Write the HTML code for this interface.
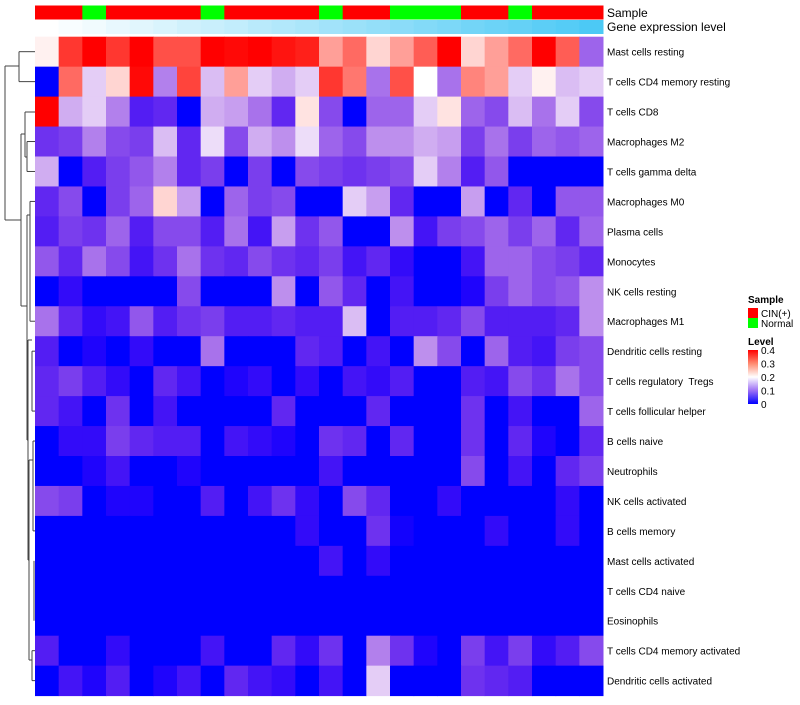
<!DOCTYPE html>
<html><head><meta charset="utf-8"><style>
body{margin:0;background:#fff;font-family:"Liberation Sans",sans-serif;}
svg text{font-family:"Liberation Sans",sans-serif;white-space:pre;}
</style></head><body>
<svg id="chart" width="800" height="700"></svg>
<script>
const rowLabels=["Mast cells resting","T cells CD4 memory resting","T cells CD8","Macrophages M2","T cells gamma delta","Macrophages M0","Plasma cells","Monocytes","NK cells resting","Macrophages M1","Dendritic cells resting","T cells regulatory  Tregs","T cells follicular helper","B cells naive","Neutrophils","NK cells activated","B cells memory","Mast cells activated","T cells CD4 naive","Eosinophils","T cells CD4 memory activated","Dendritic cells activated"];
const sampleGroups=["CIN(+)","CIN(+)","Normal","CIN(+)","CIN(+)","CIN(+)","CIN(+)","Normal","CIN(+)","CIN(+)","CIN(+)","CIN(+)","Normal","CIN(+)","CIN(+)","Normal","Normal","Normal","CIN(+)","CIN(+)","Normal","CIN(+)","CIN(+)","CIN(+)"];
const geneLevel=[0,0.04,0.08,0.13,0.17,0.21,0.26,0.3,0.34,0.39,0.43,0.47,0.52,0.56,0.6,0.65,0.69,0.73,0.78,0.82,0.86,0.91,0.95,1];
const values=[
[0.21,0.35,0.4,0.35,0.4,0.33,0.33,0.4,0.39,0.4,0.38,0.37,0.27,0.31,0.23,0.27,0.32,0.4,0.23,0.27,0.31,0.4,0.32,0.1],
[0,0.31,0.17,0.23,0.39,0.12,0.34,0.16,0.27,0.17,0.15,0.17,0.35,0.3,0.11,0.33,0.2,0.11,0.29,0.27,0.17,0.21,0.16,0.17],
[0.4,0.15,0.17,0.12,0.04,0.05,0,0.15,0.14,0.11,0.05,0.22,0.08,0,0.1,0.1,0.17,0.22,0.1,0.08,0.16,0.11,0.17,0.08],
[0.06,0.07,0.12,0.08,0.07,0.16,0.05,0.18,0.08,0.15,0.13,0.18,0.1,0.08,0.13,0.13,0.15,0.14,0.07,0.11,0.07,0.1,0.09,0.1],
[0.15,0,0.04,0.07,0.09,0.12,0.05,0.07,0,0.07,0,0.08,0.07,0.06,0.07,0.08,0.17,0.12,0.04,0.09,0,0,0,0],
[0.05,0.08,0,0.07,0.1,0.23,0.14,0,0.1,0.07,0.08,0,0,0.17,0.14,0.05,0,0,0.14,0,0.05,0,0.09,0.09],
[0.04,0.07,0.06,0.1,0.04,0.08,0.08,0.04,0.11,0.03,0.14,0.06,0.09,0,0,0.13,0.03,0.07,0.08,0.1,0.07,0.1,0.05,0.1],
[0.09,0.05,0.11,0.08,0.03,0.06,0.11,0.06,0.05,0.08,0.06,0.05,0.07,0.03,0.05,0.02,0,0,0.03,0.1,0.1,0.08,0.07,0.05],
[0,0.02,0,0,0,0,0.08,0,0,0,0.13,0,0.09,0.05,0,0.03,0,0,0.01,0.07,0.1,0.08,0.09,0.13],
[0.11,0.05,0.02,0.03,0.09,0.04,0.06,0.07,0.04,0.04,0.05,0.04,0.04,0.16,0,0.04,0.04,0.05,0.08,0.04,0.04,0.04,0.05,0.13],
[0.04,0,0.01,0,0.02,0,0,0.11,0,0,0,0.05,0.04,0,0.03,0,0.13,0.08,0,0.1,0.04,0.03,0.07,0.08],
[0.05,0.07,0.04,0.02,0,0.05,0.03,0,0.01,0.02,0,0.02,0,0.03,0.02,0.04,0,0,0.04,0.03,0.08,0.06,0.11,0.08],
[0.05,0.03,0,0.06,0,0.03,0,0,0,0,0.05,0,0,0,0.05,0,0,0,0.06,0,0.03,0,0,0.1],
[0,0.02,0.02,0.07,0.05,0.04,0.04,0,0.03,0.02,0.01,0,0.06,0.05,0,0.05,0,0,0.06,0,0.05,0.01,0,0.05],
[0,0,0.01,0.03,0,0,0.01,0,0,0,0,0,0.03,0,0,0,0,0,0.08,0,0.03,0,0.05,0.07],
[0.08,0.07,0,0.01,0.01,0,0,0.04,0,0.03,0.06,0.02,0,0.08,0.05,0,0,0.02,0,0,0,0,0.02,0],
[0,0,0,0,0,0,0,0,0,0,0,0.02,0,0,0.06,0.005,0,0,0,0.02,0,0,0.02,0],
[0,0,0,0,0,0,0,0,0,0,0,0,0.03,0,0.02,0,0,0,0,0,0,0,0,0],
[0,0,0,0,0,0,0,0,0,0,0,0,0,0,0,0,0,0,0,0,0,0,0,0],
[0,0,0,0,0,0,0,0,0,0,0,0,0,0,0,0,0,0,0,0,0,0,0,0],
[0.04,0,0,0.02,0,0,0,0.03,0,0,0.05,0.02,0.06,0,0.12,0.06,0.01,0,0.07,0.03,0.07,0.02,0.04,0.08],
[0,0.03,0.01,0.04,0,0.01,0.03,0,0.05,0.03,0.02,0,0.03,0,0.17,0,0,0,0.06,0.05,0.04,0,0,0]
];
const levelTicks=[0,0.1,0.2,0.3,0.4];

const NS="http://www.w3.org/2000/svg";
const svg=document.getElementById('chart');
const X0=35,X1=603,Y0=36.7,RH=29.95;
const nC=values[0].length, CW=(X1-X0)/nC;
const xPos=c=>X0+c*CW;
const yPos=r=>Y0+r*RH;
function mk(t,a){const e=document.createElementNS(NS,t);for(const k in a)e.setAttribute(k,a[k]);svg.appendChild(e);return e;}
function col(v){
  const t=Math.max(0,Math.min(1,v/0.4));
  let r,g,b;
  if(t<0.5){const u=t/0.5;r=Math.round(255*Math.pow(u,0.7));g=Math.round(255*Math.pow(u,1.35));b=Math.round(255-20*Math.sin(Math.PI*u));}
  else{const u=(t-0.5)/0.5;r=255;g=Math.round(255*Math.pow(1-u,1.1));b=Math.round(255*Math.pow(1-u,1.2));}
  return `rgb(${r},${g},${b})`;
}
function geneCol(t){
  const r=Math.round(255+(76-255)*t),g=Math.round(255+(201-255)*t),b=Math.round(255+(245-255)*t);
  return `rgb(${r},${g},${b})`;
}
sampleGroups.forEach((s,c)=>{
  const e=mk('rect',{x:xPos(c),y:5.5,width:CW+0.5,height:14,fill:s==="Normal"?"#00ff00":"#ff0000"});
  
  
});
geneLevel.forEach((g,c)=>{
  const e=mk('rect',{x:xPos(c),y:20,width:CW+0.5,height:14,fill:geneCol(g)});
  
  
});
let t=mk('text',{x:607,y:17,'font-size':12});t.textContent="Sample";

t=mk('text',{x:607,y:31,'font-size':12});t.textContent="Gene expression level";

values.forEach((row,r)=>{
  row.forEach((v,c)=>{
    const e=mk('rect',{x:xPos(c),y:yPos(r),width:CW+0.5,height:RH+0.5,fill:col(v)});
    
    
  });
  const l=mk('text',{x:607,y:yPos(r)+RH/2+4,'font-size':10,fill:'#000'});
  l.textContent=rowLabels[r];
  
  
});
const yc=r=>yPos(r)+RH/2;
const seg=[
 [5,66,5,220],[5,66,19,66],[5,220,21,220],
 [19,yc(0),19,yc(1)],[19,yc(0),35,yc(0)],[19,yc(1),35,yc(1)],
 [21,134,21,306],[21,134,25,134],[21,306,27,306],
 [25,112,25,157],[25,112,35,112],[25,157,27,157],
 [27,yc(3),27,yc(4)],[27,yc(3),35,yc(3)],[27,yc(4),35,yc(4)],
 [27,215,27,440],[27,215,30,215],[27,440,28,440],
 [30,yc(5),30,yc(9)],[30,yc(5),35,yc(5)],[30,yc(9),35,yc(9)],
 [28,340,28,560],[28,340,32,340],[28,560,29,560],
 [32,yc(10),32,yc(12)],[32,yc(10),35,yc(10)],[32,yc(12),35,yc(12)],
 [29,460,29,660],[29,460,33,460],[29,660,32,660],
 [33,yc(13),33,yc(16)],[33,yc(13),35,yc(13)],[33,yc(16),35,yc(16)],
 [32,yc(20),32,yc(21)],[32,yc(20),35,yc(20)],[32,yc(21),35,yc(21)],
 [34,yc(17),34,yc(19)]
];
seg.forEach(s=>{
  const e=mk('line',{x1:s[0],y1:s[1],x2:s[2],y2:s[3],stroke:'#444','stroke-width':1});
  
  
});
t=mk('text',{x:748,y:303,'font-size':10,'font-weight':'bold'});t.textContent="Sample";

[["CIN(+)","#ff0000"],["Normal","#00ff00"]].forEach((d,i)=>{
  const r=mk('rect',{x:748,y:308+i*10,width:10,height:10,fill:d[1]});
  
  const tx=mk('text',{x:761,y:317+i*10,'font-size':10});tx.textContent=d[0];
  
});
t=mk('text',{x:748,y:345,'font-size':10,'font-weight':'bold'});t.textContent="Level";

const defs=mk('defs',{});
const lg=document.createElementNS(NS,'linearGradient');lg.setAttribute('id','lv');lg.setAttribute('x1','0');lg.setAttribute('y1','1');lg.setAttribute('x2','0');lg.setAttribute('y2','0');
[[0,'#0000ff'],[0.25,'#9d70f5'],[0.5,'#ffffff'],[0.75,'#ff8a70'],[1,'#ff0000']].forEach(s=>{const st=document.createElementNS(NS,'stop');st.setAttribute('offset',s[0]);st.setAttribute('stop-color',s[1]);lg.appendChild(st);});
defs.appendChild(lg);
const CB0=350,CB1=404;
t=mk('rect',{x:748,y:CB0,width:10,height:CB1-CB0,fill:'url(#lv)'});

levelTicks.forEach(v=>{
  const y=CB1-(v/0.4)*(CB1-CB0);
  const e=mk('text',{x:761,y:y+4,'font-size':10});e.textContent=v===0?"0":v.toFixed(1);
  
});
</script>
</body></html>
